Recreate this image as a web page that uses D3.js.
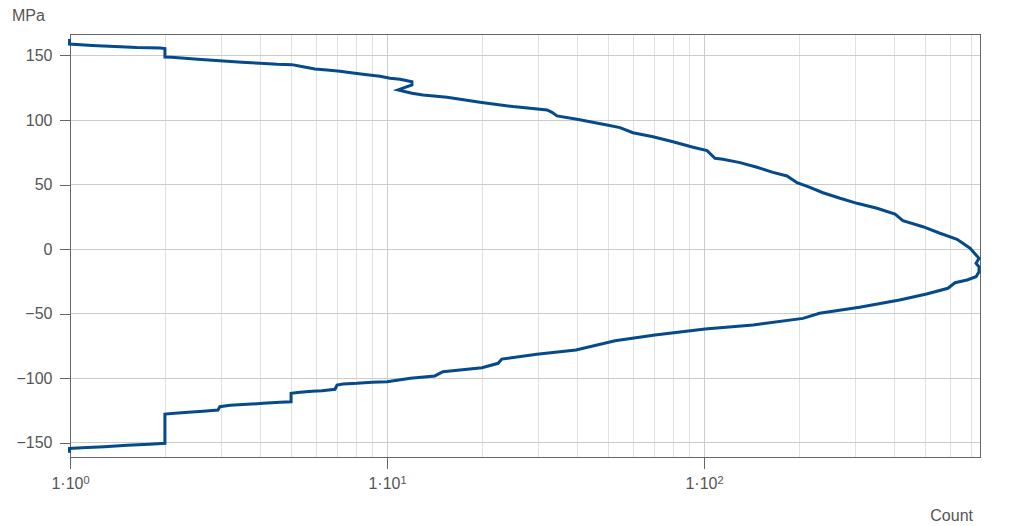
<!DOCTYPE html>
<meta charset="utf-8">
<head>
  <script src="https://d3js.org/d3.v7.min.js"></script>
  <style>
    body { margin: 0; background: #fff; }
    text { font-family: "Liberation Sans", Arial, sans-serif; fill: #555; }
    .grid line { shape-rendering: crispEdges; }
  </style>
</head>
<body>
<svg id="chart" width="1016" height="526"></svg>
<script>
// stress profile: count (log) vs MPa, traced from top to bottom
var counts = [1, 1, 1.18, 1.39, 1.63, 1.93, 2, 2, 2.1, 2.31, 2.54, 2.82, 3.14, 3.5, 3.99, 4.52, 5.03,
  5.45, 5.95, 6.49, 7.13, 7.84, 8.68, 9.54, 10.26, 11.03, 12.03, 12.03, 10.87, 12.03, 13.04, 15.52,
  19.72, 25.06, 32.08, 33.27, 34.51, 39.9, 49.6, 54.5, 59.9, 69.3, 80.1, 92.7, 102.6, 108.7, 115.2,
  130.3, 147.5, 165.6, 183.4, 197.2, 213.6, 238.2, 269.6, 304.9, 352.6, 401.8, 425.6, 492, 557.2,
  630.6, 693, 739.6, 723.8, 739.6, 739.6, 723.8, 678.1, 621.3, 590.2, 505.3, 415.3, 310.5, 232.2,
  206, 143.3, 101.1, 70.3, 52.6, 39.6, 29.8, 23.1, 22.5, 20, 15.07, 14.2, 11.9, 10.04, 9, 8.07,
  7.29, 6.98, 6.88, 6.26, 5.82, 5.34, 5, 5, 4.61, 4.08, 3.63, 3.21, 2.98, 2.94, 2.64, 2.37, 2.15,
  2, 2, 1.79, 1.52, 1.29, 1.095, 1, 1];
var stress = [162.4, 158.5, 157.4, 156.6, 155.8, 155.4, 155, 148.4, 148.2, 147.4, 146.7, 145.9, 145.1,
  144.3, 143.6, 142.8, 142.5, 140.9, 139.2, 138.4, 137.4, 136.1, 134.7, 133.5, 131.9, 131.2, 129.3,
  126.8, 122.9, 120.3, 119, 117.2, 113.4, 110, 107.4, 105.6, 102.8, 100.2, 95.8, 93.7, 89.8, 86.7,
  82.8, 78.5, 75.9, 70, 69.2, 66.6, 63, 59.1, 56.3, 51.1, 48, 43.3, 39, 35.1, 31.3, 26.8, 21.6, 17,
  11.9, 7.2, 0.3, -7.5, -11.3, -14, -17.9, -21.7, -24.3, -26.4, -30.7, -35.1, -39.8, -45.4, -50.1,
  -54, -59.1, -62.2, -66.9, -71.3, -78.5, -81.8, -85.5, -88.8, -92.2, -95.3, -98.6, -100.4, -103.1,
  -103.5, -104.3, -104.8, -105.6, -108.9, -110, -110.5, -111.3, -112, -118.6, -119, -119.8, -120.6,
  -121.3, -122.4, -125, -126, -126.8, -127.5, -128.1, -150.8, -151.5, -152.3, -153.4, -154.2,
  -154.7, -158.1];

var yTicks = [-150, -100, -50, 0, 50, 100, 150];
var xTicks = [1, 10, 100];
var xMinor = [2, 3, 4, 5, 6, 7, 8, 9, 20, 30, 40, 50, 60, 70, 80, 90, 200, 300, 400, 500, 600, 700];

var svg = d3.select("#chart");
var pLeft = 69.5, pRight = 980, pTop = 34.3, pBottom = 457.3;

var x = d3.scaleLog().domain([1, 745]).range([pLeft, pRight]);
var y = d3.scaleLinear().domain([-161.6, 166]).range([pBottom, pTop]);

var grid = svg.append("g").attr("class", "grid");
grid.selectAll(".minor").data(xMinor).enter().append("line")
  .attr("x1", function(d) { return Math.round(x(d)) + 0.5; })
  .attr("x2", function(d) { return Math.round(x(d)) + 0.5; })
  .attr("y1", pTop).attr("y2", pBottom)
  .attr("stroke", "#e1e1e1");
grid.selectAll(".major").data(xTicks).enter().append("line")
  .attr("x1", function(d) { return Math.round(x(d)) + 0.5; })
  .attr("x2", function(d) { return Math.round(x(d)) + 0.5; })
  .attr("y1", pTop).attr("y2", pBottom)
  .attr("stroke", "#cccccc");
grid.selectAll(".hline").data(yTicks).enter().append("line")
  .attr("x1", pLeft).attr("x2", pRight)
  .attr("y1", function(d) { return Math.round(y(d)) + 0.5; })
  .attr("y2", function(d) { return Math.round(y(d)) + 0.5; })
  .attr("stroke", "#cccccc");

// frame
svg.append("rect")
  .attr("x", Math.round(pLeft) + 0.5).attr("y", Math.round(pTop) + 0.5)
  .attr("width", Math.round(pRight) - Math.round(pLeft))
  .attr("height", Math.round(pBottom) - Math.round(pTop))
  .attr("fill", "none").attr("stroke", "#666")
  .style("shape-rendering", "crispEdges");

// axes
var yAxis = svg.append("g")
  .attr("transform", "translate(" + (Math.round(pLeft) + 0.5) + ",0.5)")
  .call(d3.axisLeft(y).tickValues(yTicks).tickSize(11).tickPadding(7));
var xAxis = svg.append("g")
  .attr("transform", "translate(0.5," + (Math.round(pBottom) + 0.5) + ")")
  .call(d3.axisBottom(x).tickValues(xTicks).tickSize(11).tickFormat(function() { return ""; }));

[yAxis, xAxis].forEach(function(a) {
  a.select(".domain").remove();
  a.selectAll(".tick line").attr("stroke", "#666").style("shape-rendering", "crispEdges");
  a.selectAll("text").style("font-size", "16px").attr("fill", "#555")
    .style("font-family", "'Liberation Sans', Arial, sans-serif");
});

xAxis.selectAll(".tick text").each(function(d) {
  var t = d3.select(this).attr("y", 31.5).attr("dy", null);
  t.append("tspan").text("1\u00b710");
  t.append("tspan").attr("dy", "-0.5em").style("font-size", "11px")
    .text(Math.round(Math.log10(d)));
});

svg.append("text").attr("x", 12).attr("y", 21).style("font-size", "16px").text("MPa");
svg.append("text").attr("x", 973).attr("y", 521).attr("text-anchor", "end")
  .style("font-size", "16px").text("Count");

var line = d3.line()
  .x(function(d) { return x(d); })
  .y(function(d, i) { return y(stress[i]); });

svg.append("path")
  .datum(counts)
  .attr("d", line)
  .attr("fill", "none")
  .attr("stroke", "#054a8a")
  .attr("stroke-width", 3);
</script>
</body>
</html>
